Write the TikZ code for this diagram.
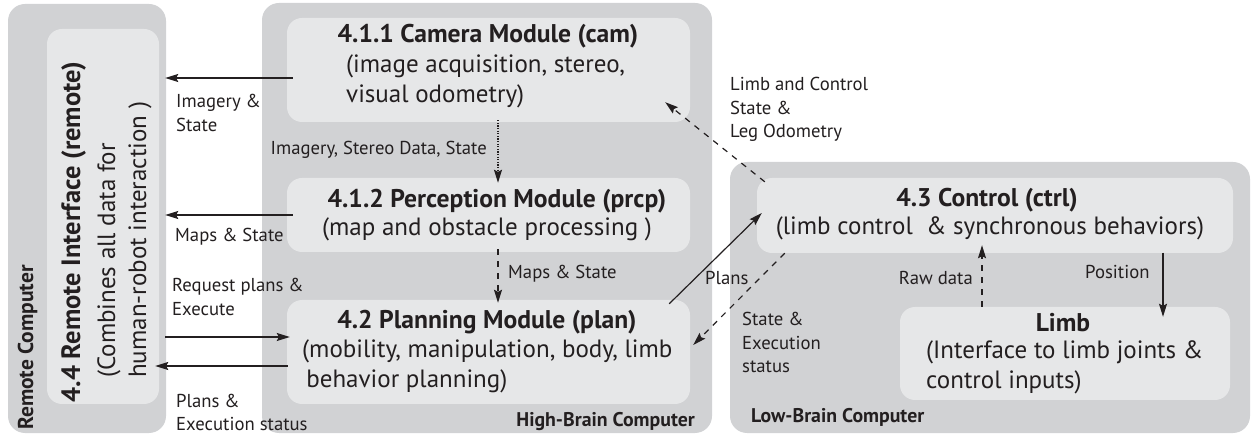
\documentclass[tikz,border=0pt]{standalone}
\usepackage{fontspec}
\setmainfont{PT Sans}
\usetikzlibrary{arrows.meta,calc}
\definecolor{outerg}{HTML}{D1D2D4}
\definecolor{innerg}{HTML}{E6E7E8}
\definecolor{ink}{HTML}{231F20}
\begin{document}
\begin{tikzpicture}[x=1pt,y=-1pt,
  outerbox/.style={fill=outerg, draw=none, rounded corners=17pt, inner sep=0pt},
  innerbox/.style={fill=innerg, draw=none, rounded corners=15pt, inner sep=0pt},
  ttl/.style={inner sep=0pt, text=ink, font=\fontsize{25.6}{30}\selectfont\bfseries},
  bdy/.style={inner sep=0pt, text=ink, font=\fontsize{25}{30}\selectfont},
  lbl/.style={inner sep=0pt, text=ink, font=\fontsize{18.7}{23.5}\selectfont},
  grp/.style={inner sep=0pt, text=ink, font=\fontsize{19.8}{24}\selectfont\bfseries},
  arr/.style={draw=ink, line width=1.2pt, -{Stealth[length=13pt,width=8pt,inset=2pt]}},
  dsh/.style={arr, dash pattern=on 6pt off 6pt},
  dtt/.style={arr, dash pattern=on 1.3pt off 1.3pt}
]
\useasboundingbox (0,0) rectangle (1253,435);

% group boxes
\node[outerbox, minimum width=158pt, minimum height=429pt] (remoteC) at (87,218.5) {};
\node[outerbox, minimum width=450pt, minimum height=430pt] (high) at (487,218) {};
\node[outerbox, minimum width=520pt, minimum height=271pt] (low) at (990,297.5) {};

% module boxes
\node[innerbox, minimum width=112pt, minimum height=375pt] (remote) at (103,216.5) {};
\node[innerbox, minimum width=403pt, minimum height=104pt] (cam) at (488.5,70) {};
\node[innerbox, minimum width=403pt, minimum height=74pt] (prcp) at (488.5,215) {};
\node[innerbox, minimum width=403pt, minimum height=104pt] (plan) at (488.5,352) {};
\node[innerbox, minimum width=476pt, minimum height=75pt] (ctrl) at (995,215.5) {};
\node[innerbox, minimum width=330pt, minimum height=93pt] (limb) at (1065,353.5) {};

% group labels
\node[grp, font=\fontsize{21.5}{24}\selectfont\bfseries, rotate=90, anchor=base west] (remoteCL) at (33,430) {Remote Computer};
\node[grp, anchor=base east] (highL) at (695,427) {High-Brain Computer};
\node[grp, anchor=base west] (lowL) at (751,423) {Low-Brain Computer};

% module texts
\node[ttl, font=\fontsize{26.5}{30}\selectfont\bfseries, rotate=90, anchor=base] (remoteT) at (80,232) {4.4 Remote Interface (remote)};
\node[bdy, rotate=90, anchor=base west] (remoteB) at (115,378) {\begin{tabular}[t]{@{}l@{}}(Combines all data for\\[1pt]human-robot interaction )\end{tabular}};

\node[ttl, anchor=base] (camT) at (488,43) {4.1.1 Camera Module (cam)};
\node[bdy, anchor=base west] (camB) at (346,73) {\begin{tabular}[t]{@{}l@{}}(image acquisition, stereo,\\visual odometry)\end{tabular}};

\node[ttl, anchor=base] (prcpT) at (497,208) {4.1.2 Perception Module (prcp)};
\node[bdy, anchor=base] (prcpB) at (487,236) {(map and obstacle processing )};

\node[ttl, anchor=base] (planT) at (487,329) {4.2 Planning Module (plan)};
\node[bdy, anchor=base west] (planB) at (302,358) {\begin{tabular}[t]{@{}l@{}}(mobility, manipulation, body, limb\\\,behavior planning)\end{tabular}};

\node[ttl, anchor=base] (ctrlT) at (987,207) {4.3 Control (ctrl)};
\node[bdy, anchor=base] (ctrlB) at (990,235) {(limb control\ \ \& synchronous behaviors)};

\node[ttl, anchor=base] (limbT) at (1063,332) {Limb};
\node[bdy, anchor=base west] (limbB) at (926,359) {\begin{tabular}[t]{@{}l@{}}(Interface to limb joints \&\\control inputs)\end{tabular}};

% connector end points
\coordinate (a1s) at ([shift={(6,8)}]cam.west);
\coordinate (a2s) at ([shift={(6,0)}]prcp.west);
\coordinate (a3s) at ([shift={(6,120.5)}]remote.east);
\coordinate (a4s) at ([shift={(1,14)}]plan.west);
\coordinate (a5s) at ([shift={(9.5,-2)}]cam.south);
\coordinate (a6s) at ([shift={(9.5,-3)}]prcp.south);
\coordinate (a7s) at ([shift={(-21,4)}]plan.north east);
\coordinate (a8s) at ([shift={(28,0)}]ctrl.south west);
\coordinate (a9s) at ([shift={(8,4)}]ctrl.north west);
\coordinate (a10s) at ([shift={(-83,0)}]limb.north);
\coordinate (a11s) at ([shift={(168,-0.5)}]ctrl.south);

% connectors
\draw[arr, shorten >=6pt] (a1s) -- (a1s -| remote.east);
\draw[arr, shorten >=6pt] (a2s) -- (a2s -| remote.east);
\draw[arr, shorten >=-3pt] (a3s) -- (a3s -| plan.west);
\draw[arr, shorten >=-4pt] (a4s) -- (a4s -| remote.east);
\draw[dtt, shorten >=-5pt] (a5s) -- (a5s |- prcp.north);
\draw[dtt, dash pattern=on 6pt off 6pt, shorten >=-3pt] (a6s) -- (a6s |- plan.north);
\draw[arr] (a7s) -- ([shift={(5,-2.5)}]ctrl.west);
\draw[dsh] (a8s) -- ([shift={(3,-7)}]plan.east);
\draw[dsh] (a9s) -- ([shift={(-25,-20)}]cam.south east);
\draw[dsh] (a10s) -- (a10s |- ctrl.south) -- ++(0,-8);
\draw[arr, shorten >=-10pt] (a11s) -- (a11s |- limb.north);

% connector labels
\node[lbl, anchor=base west] (l1) at (176,108) {\begin{tabular}[t]{@{}l@{}}Imagery \&\\State\end{tabular}};
\node[lbl, anchor=base west] (l2) at (175,242) {Maps \& State};
\node[lbl, anchor=base west] (l3) at (172,292) {\begin{tabular}[t]{@{}l@{}}Request plans \&\\Execute\end{tabular}};
\node[lbl, anchor=base west] (l4) at (176,407) {\begin{tabular}[t]{@{}l@{}}Plans \&\\Execution status\end{tabular}};
\node[lbl, anchor=base east] (l5) at (487,155) {Imagery, Stereo Data, State};
\node[lbl, anchor=base west] (l6) at (508,279) {Maps \& State};
\node[lbl, anchor=base west] (l7) at (705,285) {Plans};
\node[lbl, anchor=base west] (l8) at (742,326) {\begin{tabular}[t]{@{}l@{}}State \&\\Execution\\status\end{tabular}};
\node[lbl, anchor=base west] (l9) at (730,91) {\begin{tabular}[t]{@{}l@{}}Limb and Control\\State \&\\Leg Odometry\end{tabular}};
\node[lbl, anchor=base east] (l10) at (973,285) {Raw data};
\node[lbl, anchor=base west] (l11) at (1085,279) {Position};
\end{tikzpicture}
\end{document}
